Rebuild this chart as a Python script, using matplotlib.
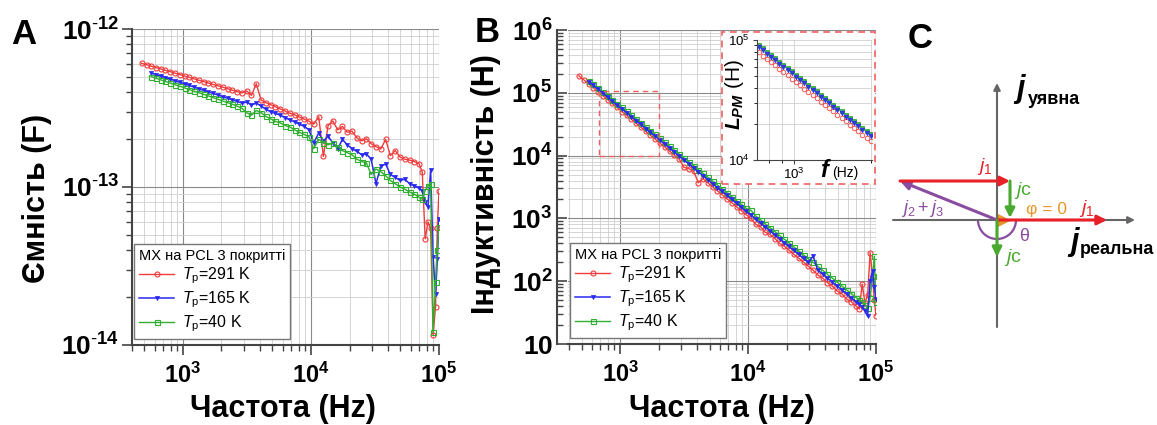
import numpy as np
import matplotlib
matplotlib.use("Agg")
import matplotlib.pyplot as plt
from matplotlib.patches import Rectangle, Arc
from matplotlib.ticker import FixedLocator, FixedFormatter, LogLocator, NullFormatter

plt.rcParams['font.family'] = ['Liberation Sans', 'DejaVu Sans']
plt.rcParams['mathtext.fontset'] = 'custom'
plt.rcParams['mathtext.rm'] = 'Liberation Sans'
plt.rcParams['mathtext.it'] = 'Liberation Sans:italic'
plt.rcParams['mathtext.bf'] = 'Liberation Sans:bold'
plt.rcParams['mathtext.bfit'] = 'Liberation Sans:bold:italic'

# ---- data -------------------------------------------------------------
freq = [475, 520, 565, 615, 670, 730, 795, 865, 945, 1030, 1120, 1220, 1330,
        1450, 1580, 1720, 1880, 2050, 2230, 2430, 2650, 2890,
        3150, 3430, 3740, 4080, 4440, 4840, 5280, 5750, 6270, 6830, 7450,
        8120, 8850, 9650,
        10500, 11500, 12500, 13600, 14800, 16200, 17600, 19200, 20900, 22800,
        24900, 27100, 29500,
        32200, 35100, 38300, 41700, 45500, 49600, 54000, 58900, 64200, 70000,
        74000,
        78000, 82000, 86000, 90000, 94000, 97000, 100000]
freq_bg = freq[2:]   # blue and green sweeps start at 565 Hz

# capacitance, units of 1e-13 F
cap_291 = [6.07, 5.94, 5.82, 5.70, 5.59, 5.47, 5.37, 5.26, 5.15, 5.04, 4.94, 4.84,
           4.74, 4.65, 4.55, 4.46, 4.37, 4.28, 4.19, 4.10, 4.02, 3.94,
           4.05, 3.80, 4.50, 3.55, 3.42, 3.32, 3.22, 3.12, 3.03, 2.93, 2.86, 2.77,
           2.69, 2.61,
           2.50, 2.78, 1.56, 2.45, 2.62, 2.30, 2.42, 2.22, 2.26, 2.05, 1.96, 2.02,
           1.88,
           1.80, 1.74, 2.00, 1.58, 1.70, 1.55, 1.50, 1.48, 1.45, 1.40, 1.24,
           0.47, 0.60, 0.55, 0.116, 0.175, 0.55, 0.95]
cap_165 = [5.27, 5.15, 5.04, 4.93, 4.82, 4.71, 4.60, 4.49, 4.39, 4.29, 4.19, 4.09,
           4.00, 3.91, 3.82, 3.73, 3.65, 3.56, 3.48, 3.40,
           3.45, 3.30, 3.40, 3.25, 3.10, 3.00, 2.92, 2.85, 2.75, 2.66, 2.58, 2.50,
           2.42, 2.30,
           1.90, 2.20, 1.95, 2.10, 1.90, 1.75, 2.00, 1.85, 1.75, 1.68, 1.60, 1.62,
           1.50,
           1.05, 1.35, 1.40, 1.20, 1.15, 1.10, 1.12, 1.05, 1.02, 0.98, 0.95,
           0.80, 0.75, 1.28, 0.36, 0.21, 0.35, 0.63]
cap_40 = [5.00, 4.88, 4.77, 4.66, 4.55, 4.44, 4.34, 4.24, 4.14, 4.04, 3.95, 3.86,
          3.77, 3.68, 3.59, 3.50, 3.42, 3.34, 3.25, 3.15,
          2.95, 2.85, 3.05, 2.95, 2.80, 2.70, 2.60, 2.55, 2.45, 2.40, 2.30, 2.22,
          2.15, 2.08,
          1.75, 2.00, 1.90, 1.85, 1.90, 1.80, 1.70, 1.65, 1.60, 1.50, 1.45, 1.42,
          1.20,
          1.30, 1.25, 1.18, 1.10, 1.05, 1.00, 0.97, 0.93, 0.90, 0.86, 0.84,
          0.95, 1.02, 1.05, 0.12, 0.25, 0.40, 0.56]

# inductance, H
ind_291 = [186000, 160000, 139000, 120500, 104000, 90300, 78200, 67700, 58400,
           50300, 43800, 37900, 32700, 28300, 24400, 21100, 18200, 15700, 13700,
           11800, 10200, 8810,
           6500, 6200, 5700, 3700, 4280, 3690, 3180, 2750, 2380, 2060, 1780,
           1530, 1330, 1150,
           997, 800, 741, 600, 558, 478, 400, 360, 311, 268, 232, 201, 174,
           150, 125, 112, 95, 84, 70, 63, 52, 47, 40, 36,
           90, 45, 60, 285, 120, 50, 28]
ind_165 = [151000, 131000, 114000, 98600, 85500, 74100, 64000, 55300, 48200,
           41800, 36100, 31300, 27000, 23400, 20200, 17500, 15200, 13100, 11400,
           9820,
           8510, 7380, 6380, 5510, 4800, 4140, 3580, 3100, 2690, 2330, 2010,
           1740, 1510, 1300,
           1130, 971, 845, 733, 638, 547, 476, 413, 358, 309, 267, 231, 200,
           250, 150, 130, 112, 97, 84, 73, 63, 54, 47, 43,
           39, 34, 28, 100, 146, 80, 52]
ind_40 = [155000, 136000, 119000, 103000, 89800, 78000, 67500, 58500, 51000,
          44300, 38400, 33300, 28800, 25000, 21700, 18800, 16300, 14100, 12300,
          10600,
          9200, 8000, 6950, 6000, 5230, 4530, 3920, 3400, 2950, 2560, 2220,
          1920, 1670, 1440,
          1350, 1080, 950, 820, 715, 615, 535, 465, 410, 350, 302, 262, 228,
          200, 172, 149, 129, 112, 97, 84, 73, 63, 55, 50,
          46, 42, 38, 55, 120, 250, 47]

# inset (zoomed part of the inductance curves)
ins_freq = [730, 757, 786, 816, 847, 879, 912, 947, 983, 1020, 1059, 1099, 1141,
            1185, 1230, 1276, 1325, 1376, 1428, 1482, 1538, 1597, 1658, 1721,
            1786, 1854, 1925, 2000]
ins_291 = [78900, 74100, 69500, 65300, 61400, 57500, 54100, 50700, 47600, 44800,
           42000, 39400, 37100, 34800, 32700, 30700, 28800, 27000, 25400, 23800,
           22400, 21000, 19700, 18500, 17400, 16300, 15300, 14400]
ins_165 = [87500, 81900, 77000, 72200, 67800, 63600, 59700, 56000, 52600, 49400,
           46300, 43500, 40800, 38300, 35900, 33800, 31700, 29800, 27900, 26200,
           24600, 23000, 21700, 20300, 19100, 17900, 16900, 15800]
ins_40 = [90800, 85100, 80000, 75000, 70500, 66100, 62100, 58200, 54700, 51300,
          48100, 45200, 42400, 39800, 37300, 35100, 32900, 30900, 29000, 27200,
          25500, 23900, 22500, 21100, 19800, 18600, 17500, 16400]

legend_title = "MX на PCL 3 покритті"
labels = [r"$T_\mathregular{p}$=291 K", r"$T_\mathregular{p}$=165 K",
          r"$T_\mathregular{p}$=40 K"]
colors = ["#f03c3c", "#2a2af0", "#30b030"]
markers = ["o", "v", "s"]

x_ticks = [1e3, 1e4, 1e5]
x_ticklabels = [r"$\mathbf{10^3}$", r"$\mathbf{10^4}$", r"$\mathbf{10^5}$"]
a_yticks = [1e-14, 1e-13, 1e-12]
a_yticklabels = [r"$\mathbf{10^{\text{-}14}}$", r"$\mathbf{10^{\text{-}13}}$",
                 r"$\mathbf{10^{\text{-}12}}$"]
b_yticks = [10, 1e2, 1e3, 1e4, 1e5, 1e6]
b_yticklabels = [r"$\mathbf{10}$", r"$\mathbf{10^2}$", r"$\mathbf{10^3}$",
                 r"$\mathbf{10^4}$", r"$\mathbf{10^5}$", r"$\mathbf{10^6}$"]

W, H = 1157, 425
fig = plt.figure(figsize=(W / 100, H / 100), dpi=100)


def px_axes(x0, x1, y0, y1, **kw):
    return fig.add_axes([x0 / W, 1 - y1 / H, (x1 - x0) / W, (y1 - y0) / H], **kw)


def style_log_axes(ax, yticks, yticklabels):
    ax.set_xscale("log")
    ax.set_yscale("log")
    ax.xaxis.set_major_locator(FixedLocator(x_ticks))
    ax.xaxis.set_major_formatter(FixedFormatter(x_ticklabels))
    ax.yaxis.set_major_locator(FixedLocator(yticks))
    ax.yaxis.set_major_formatter(FixedFormatter(yticklabels))
    for axis in (ax.xaxis, ax.yaxis):
        axis.set_minor_locator(LogLocator(base=10, subs=np.arange(2, 10), numticks=20))
        axis.set_minor_formatter(NullFormatter())
    ax.tick_params(axis="x", which="major", labelsize=17, length=7, width=1.2,
                   color="#444", pad=6)
    ax.tick_params(axis="y", which="major", labelsize=19, length=7, width=1.2,
                   color="#444", pad=2)
    ax.tick_params(which="minor", length=4, width=1, color="#444")
    ax.grid(True, which="major", color="#8a8a8a", lw=0.8)
    ax.grid(True, which="minor", color="#cfcfcf", lw=0.6)
    ax.set_axisbelow(True)
    for s in ("top", "right"):
        ax.spines[s].set_visible(False)
    for s in ("left", "bottom"):
        ax.spines[s].set_color("#444")
        ax.spines[s].set_linewidth(1.5)


def add_legend(ax, handles):
    leg = ax.legend(handles, labels, title=legend_title, loc="lower left",
                    bbox_to_anchor=(0.008, 0.02), borderaxespad=0, fontsize=11.5,
                    title_fontsize=10.5, frameon=True, fancybox=False,
                    edgecolor="#777", framealpha=1, handlelength=2.2,
                    handletextpad=0.5, labelspacing=0.2, borderpad=0.3,
                    alignment="left")
    leg.get_frame().set_linewidth(1.0)
    return leg


def draw_series(ax, f, vals, c, m):
    if m == "v":
        return ax.plot(f, vals, "-", color=c, marker=m, ms=3, mfc=c, mew=0.5,
                       lw=1.1)[0]
    return ax.plot(f, vals, "-", color=c, marker=m, ms=3.6, mfc="none",
                   mew=0.8, lw=1.0)[0]


# ---- panel A: capacitance ---------------------------------------------
axA = px_axes(132, 439, 29, 345)
style_log_axes(axA, a_yticks, a_yticklabels)
hA = [draw_series(axA, freq, np.array(cap_291) * 1e-13, colors[0], markers[0]),
      draw_series(axA, freq_bg, np.array(cap_165) * 1e-13, colors[1], markers[1]),
      draw_series(axA, freq_bg, np.array(cap_40) * 1e-13, colors[2], markers[2])]
axA.set_xlim(400, 1e5)
axA.set_ylim(1e-14, 1e-12)
add_legend(axA, hA)

# ---- panel B: inductance ----------------------------------------------
axB = px_axes(568, 876, 30, 344)
style_log_axes(axB, b_yticks, b_yticklabels)
axB.spines["left"].set_position(("outward", 8))
axB.tick_params(axis="y", which="both", direction="in")
axB.tick_params(axis="y", which="major", pad=3)
hr = draw_series(axB, freq, ind_291, colors[0], markers[0])
hg = draw_series(axB, freq_bg, ind_40, colors[2], markers[2])
hb = draw_series(axB, freq_bg, ind_165, colors[1], markers[1])
axB.set_xlim(390, 1e5)
axB.set_ylim(10, 1e6)
add_legend(axB, [hr, hb, hg])
axB.add_patch(Rectangle((676, 1e4), 2000 - 676, 1.07e5 - 1e4, fill=False,
                        ec="#f06060", ls=(0, (4, 3)), lw=1.0, zorder=5))

# inset frame (dashed, white background)
fig.patches.append(Rectangle((722 / W, 1 - 184 / H), 153 / W, 152 / H,
                             transform=fig.transFigure, fc="white",
                             ec="#f06060", ls=(0, (4, 3)), lw=1.2, zorder=2))
axI = px_axes(757, 872, 40, 160)
axI.set_zorder(3)
axI.set_xscale("log")
axI.set_yscale("log")
for vals, c, m in [(ins_291, colors[0], "o"), (ins_40, colors[2], "s"),
                   (ins_165, colors[1], "v")]:
    filled = "none" if m == "o" else c
    axI.plot(ins_freq, vals, ls="none", marker=m, ms=3.2, mfc=filled, mec=c,
             mew=0.7, alpha=0.85)
axI.set_xlim(720, 2020)
axI.set_ylim(1e4, 1e5)
axI.xaxis.set_major_locator(FixedLocator([1e3]))
axI.xaxis.set_major_formatter(FixedFormatter([r"10$^3$"]))
axI.xaxis.set_minor_locator(LogLocator(base=10, subs=np.arange(2, 10), numticks=20))
axI.xaxis.set_minor_formatter(NullFormatter())
axI.yaxis.set_major_locator(FixedLocator([1e4, 1e5]))
axI.yaxis.set_major_formatter(FixedFormatter([r"10$^4$", r"10$^5$"]))
axI.yaxis.set_minor_locator(LogLocator(base=10, subs=np.arange(2, 10), numticks=20))
axI.yaxis.set_minor_formatter(NullFormatter())
axI.tick_params(labelsize=9.5, length=3, width=0.8, color="#444", pad=2)
axI.tick_params(which="minor", length=2, width=0.6)
axI.grid(True, which="both", color="#d0d0d0", lw=0.6)
axI.set_axisbelow(True)
for s in ("top", "right"):
    axI.spines[s].set_visible(False)
for s in ("left", "bottom"):
    axI.spines[s].set_color("#444")
fig.text(820 / W, 1 - 171 / H, r"$\mathbfit{f}$", fontsize=17, ha="left",
         va="center", zorder=4)
fig.text(832 / W, 1 - 173 / H, "(Hz)", fontsize=10, ha="left", va="center",
         zorder=4)
fig.text(735 / W, 1 - 95 / H, r"$\mathbfit{L}_{\mathbfit{PM}}$ (H)", fontsize=15,
         rotation=90, ha="center", va="center", zorder=4)

# ---- axis labels and panel letters ------------------------------------
lab = dict(fontsize=22, fontweight="bold", ha="center", va="center")
fig.text(37 / W, 1 - 198 / H, "Ємність (F)", rotation=90, **lab)
fig.text(283 / W, 1 - 409 / H, "Частота (Hz)", **lab)
fig.text(486 / W, 1 - 184 / H, "Індуктивність (H)", rotation=90, **lab)
fig.text(722 / W, 1 - 409 / H, "Частота (Hz)", **lab)
for letter, x, y in [("A", 24, 34), ("B", 487, 33), ("C", 920, 38)]:
    fig.text(x / W, 1 - y / H, letter, fontsize=25, fontweight="bold",
             ha="center", va="center")

# ---- panel C: phasor diagram ------------------------------------------
# vectors relative to the origin, in pixel units (y up)
j1_vec = (110, 0)
jc_vec = (0, -37)
j23_vec = (-97, 39)
red, green, purple, orange, grey = "#e82028", "#4aaa30", "#8a4ca0", "#e8962a", "#666666"

axC = px_axes(880, 1157, 0, 425)
axC.set_xlim(-117, 160)
axC.set_ylim(-205, 220)
axC.axis("off")


def arrow(ax, start, vec, color, lw=2.2, ms=14):
    end = (start[0] + vec[0], start[1] + vec[1])
    ax.annotate("", xy=end, xytext=start,
                arrowprops=dict(arrowstyle="-|>", color=color, lw=lw,
                                mutation_scale=ms, shrinkA=0, shrinkB=0))
    return end


arrow(axC, (-104, 0), (242, 0), grey, lw=1.5, ms=10)
arrow(axC, (0, -107), (0, 244), grey, lw=1.5, ms=10)
tip = arrow(axC, (0, 0), j23_vec, purple)
top = arrow(axC, tip, j1_vec, red)
arrow(axC, top, jc_vec, green)
arrow(axC, (0, 0), j1_vec, red)
arrow(axC, (0, 0), jc_vec, green)
axC.plot([6], [0], marker=">", color=orange, ms=8)
axC.add_patch(Arc((0, 0), 38, 38, theta1=180, theta2=360, color=purple, lw=1.6))

txt = [(-12, 54, r"$j_1$", red, 14), (26, 30, r"$j$c", green, 14),
       (50, 11, "φ = 0", orange, 12.5), (90, 12, r"$j_1$", red, 14),
       (-75, 12, r"$j_2 + j_3$", purple, 13), (27, -16, "θ", purple, 13),
       (16, -37, r"$j$c", green, 14)]
for x, y, s, c, fs in txt:
    axC.text(x, y, s, color=c, fontsize=fs, ha="center", va="center")
axC.text(23, 131, r"$\mathbfit{j}$", fontsize=22, ha="center", va="center")
axC.text(31, 121, "уявна", fontsize=13, fontweight="bold", ha="left",
         va="center")
axC.text(77, -22, r"$\mathbfit{j}$", fontsize=22, ha="center", va="center")
axC.text(83, -29, "реальна", fontsize=13, fontweight="bold", ha="left",
         va="center")

fig.savefig("out.png", dpi=100)
